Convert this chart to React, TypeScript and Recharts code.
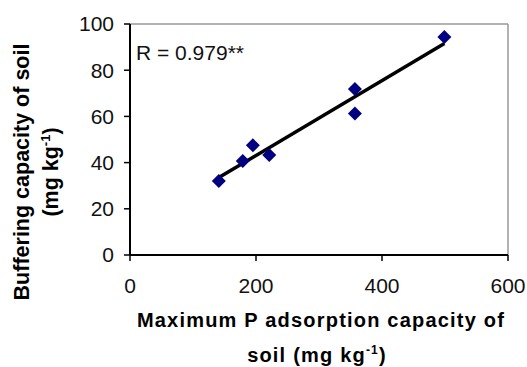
import { ScatterChart, Scatter, XAxis, YAxis, ReferenceLine, Label } from "recharts";

// soil samples: max P adsorption (x) vs buffering capacity (y)
const adsorption = [141, 179, 195, 221, 357, 357, 499];
const buffering = [32, 40.7, 47.5, 43.3, 71.9, 61.3, 94.4];
const points = adsorption.map((x, i) => ({ x, y: buffering[i] }));

// regression line end points
const fitX = [141, 499];
const fitY = [33.5, 91.6];

const xTicks = [0, 200, 400, 600];
const yTicks = [0, 20, 40, 60, 80, 100];

const font = "'Liberation Sans', Arial, sans-serif";

const Diamond = (props: any) => {
  const { cx, cy } = props;
  const r = 7;
  return (
    <polygon
      points={`${cx},${cy - r} ${cx + r},${cy} ${cx},${cy + r} ${cx - r},${cy}`}
      fill="#000080"
    />
  );
};

const YTitle = () => (
  <g fontFamily={font} fontWeight="bold" fontSize={21.5} fill="#000">
    <text transform="translate(29,172) rotate(-90)" textAnchor="middle">
      Buffering capacity of soil
    </text>
    <text transform="translate(58,172) rotate(-90)" textAnchor="middle">
      (mg kg<tspan dy={-8} fontSize={13}>-1</tspan>
      <tspan dy={8}>)</tspan>
    </text>
  </g>
);

const XTitle = () => (
  <g fontFamily={font} fontWeight="bold" fontSize={20} fill="#000" letterSpacing={1.2}>
    <text x={321} y={327} textAnchor="middle">
      Maximum P adsorption capacity of
    </text>
    <text x={317} y={362} textAnchor="middle">
      soil (mg kg<tspan dy={-8} fontSize={12}>-1</tspan>
      <tspan dy={8}>)</tspan>
    </text>
  </g>
);

export default function App() {
  return (
    <div style={{ position: "absolute", left: 0, top: 0, background: "#fff" }}>
      <ScatterChart
        width={527}
        height={367}
        margin={{ top: 24, right: 19, bottom: 0, left: 0 }}
      >
        <XAxis
          type="number"
          dataKey="x"
          domain={[0, 600]}
          ticks={xTicks}
          height={112}
          axisLine={{ stroke: "#000", strokeWidth: 2 }}
          tickLine={{ stroke: "#000", strokeWidth: 1.5 }}
          tickSize={6}
          tickMargin={17}
          tick={{ fill: "#111", fontSize: 21, fontFamily: font }}
        >
          <Label content={<XTitle />} />
        </XAxis>
        <YAxis
          type="number"
          dataKey="y"
          domain={[0, 100]}
          ticks={yTicks}
          width={130}
          axisLine={{ stroke: "#000", strokeWidth: 2 }}
          tickLine={{ stroke: "#000", strokeWidth: 1.5 }}
          tickSize={6}
          tickMargin={10}
          tick={{ fill: "#111", fontSize: 21, fontFamily: font }}
        >
          <Label content={<YTitle />} />
        </YAxis>
        <ReferenceLine y={100} stroke="#999" strokeWidth={1.5} />
        <ReferenceLine x={600} stroke="#999" strokeWidth={1.5} />
        <ReferenceLine
          segment={[
            { x: fitX[0], y: fitY[0] },
            { x: fitX[1], y: fitY[1] },
          ]}
          stroke="#000"
          strokeWidth={3.5}
        >
          <Label
            content={() => (
              <text x={136} y={60} fontFamily={font} fontSize={21} fill="#111">
                R = 0.979**
              </text>
            )}
          />
        </ReferenceLine>
        <Scatter data={points} shape={<Diamond />} isAnimationActive={false} />
      </ScatterChart>
    </div>
  );
}
